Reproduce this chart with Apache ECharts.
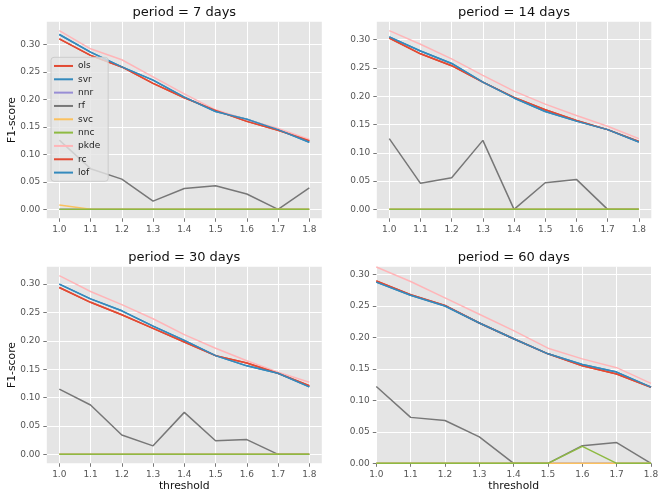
<!DOCTYPE html>
<html><head><meta charset="utf-8">
<script src="https://cdn.jsdelivr.net/npm/echarts@6/dist/echarts.min.js"></script>
<style>html,body{margin:0;padding:0;background:#fff}#c{width:665px;height:499px}</style>
</head><body><div id="c"></div>
<script>
// ---- data ----
const thresholds = [1.0, 1.1, 1.2, 1.3, 1.4, 1.5, 1.6, 1.7, 1.8];
const periodTitles = ['period = 7 days', 'period = 14 days', 'period = 30 days', 'period = 60 days'];
const xTickValues = [1.0, 1.1, 1.2, 1.3, 1.4, 1.5, 1.6, 1.7, 1.8];
const yTickValues = [0, 0.05, 0.10, 0.15, 0.20, 0.25, 0.30];
const methodNames = ['ols', 'svr', 'nnr', 'rf', 'svc', 'nnc', 'pkde', 'rc', 'lof'];
// each array: [7 days, 14 days, 30 days, 60 days]
const ols = [
  [0.310, 0.280, 0.259, 0.229, 0.203, 0.180, 0.160, 0.144, 0.125],
  [0.303, 0.275, 0.254, 0.225, 0.198, 0.176, 0.157, 0.141, 0.120],
  [0.294, 0.268, 0.246, 0.222, 0.198, 0.174, 0.161, 0.143, 0.121],
  [0.290, 0.268, 0.251, 0.223, 0.198, 0.174, 0.155, 0.142, 0.121]
];
const svr = [
  [0.318, 0.286, 0.259, 0.235, 0.204, 0.178, 0.164, 0.145, 0.122],
  [0.305, 0.280, 0.258, 0.225, 0.197, 0.173, 0.156, 0.141, 0.119],
  [0.300, 0.274, 0.253, 0.226, 0.201, 0.174, 0.156, 0.143, 0.119],
  [0.288, 0.267, 0.250, 0.223, 0.198, 0.174, 0.157, 0.145, 0.121]
];
const nnr = [
  [0, 0, 0, 0, 0, 0, 0, 0, 0],
  [0, 0, 0, 0, 0, 0, 0, 0, 0],
  [0, 0, 0, 0, 0, 0, 0, 0, 0],
  [0, 0, 0, 0, 0, 0, 0, 0, 0]
];
const rf = [
  [0.126, 0.074, 0.055, 0.015, 0.038, 0.043, 0.028, 0, 0.039],
  [0.125, 0.046, 0.056, 0.122, 0, 0.047, 0.053, 0, 0],
  [0.115, 0.087, 0.034, 0.015, 0.074, 0.024, 0.026, 0, 0],
  [0.122, 0.073, 0.068, 0.042, 0, 0, 0.028, 0.033, 0]
];
const svc = [
  [0.008, 0, 0, 0, 0, 0, 0, 0, 0],
  [0, 0, 0, 0, 0, 0, 0, 0, 0],
  [0, 0, 0, 0, 0, 0, 0, 0, 0],
  [0, 0, 0, 0, 0, 0, 0, 0, 0]
];
const nnc = [
  [0, 0, 0, 0, 0, 0, 0, 0, 0],
  [0, 0, 0, 0, 0, 0, 0, 0, 0],
  [0, 0, 0, 0, 0, 0, 0, 0, 0],
  [0, 0, 0, 0, 0, 0, 0.027, 0, 0]
];
const pkde = [
  [0.325, 0.292, 0.272, 0.241, 0.210, 0.181, 0.163, 0.147, 0.127],
  [0.316, 0.292, 0.266, 0.237, 0.209, 0.186, 0.166, 0.147, 0.125],
  [0.315, 0.287, 0.264, 0.239, 0.211, 0.187, 0.165, 0.145, 0.127],
  [0.312, 0.289, 0.263, 0.237, 0.211, 0.183, 0.166, 0.152, 0.127]
];
const rc = [
  [0.310, 0.280, 0.259, 0.229, 0.203, 0.180, 0.160, 0.144, 0.125],
  [0.303, 0.275, 0.254, 0.225, 0.198, 0.176, 0.157, 0.141, 0.120],
  [0.294, 0.268, 0.246, 0.222, 0.198, 0.174, 0.161, 0.143, 0.121],
  [0.290, 0.268, 0.251, 0.223, 0.198, 0.174, 0.155, 0.142, 0.121]
];
const lof = [
  [0.318, 0.286, 0.259, 0.235, 0.204, 0.178, 0.164, 0.145, 0.122],
  [0.305, 0.280, 0.258, 0.225, 0.197, 0.173, 0.156, 0.141, 0.119],
  [0.300, 0.274, 0.253, 0.226, 0.201, 0.174, 0.156, 0.143, 0.119],
  [0.288, 0.267, 0.250, 0.223, 0.198, 0.174, 0.157, 0.145, 0.121]
];
const methodData = [ols, svr, nnr, rf, svc, nnc, pkde, rc, lof];

// ---- style / layout ----
const colors = ['#E24A33', '#348ABD', '#988ED5', '#777777', '#FBC15E', '#8EBA42', '#FFB5B8', '#E24A33', '#348ABD'];
const FONT = '"DejaVu Sans", "Liberation Sans", sans-serif';
const grids = [
  {left: 46.8, top: 21.7, width: 275, height: 196.6},
  {left: 376.8, top: 21.7, width: 274.5, height: 196.6},
  {left: 46.8, top: 266.7, width: 275, height: 196.6},
  {left: 376.3, top: 266.7, width: 274.7, height: 196.6}
];
const xRanges = [[0.96, 1.84], [0.96, 1.84], [0.96, 1.84], [1.0, 1.8]];
const yRanges = [[-0.01625, 0.34125], [-0.0158, 0.3318], [-0.01575, 0.33075], [0, 0.3125]];

const chart = echarts.init(document.getElementById('c'), null, {renderer: 'canvas'});

const gridOpts = grids.map(g => Object.assign({show: true, backgroundColor: '#E5E5E5', borderWidth: 0, containLabel: false}, g));
const xAxes = grids.map((g, i) => ({
  type: 'value', gridIndex: i, min: xRanges[i][0], max: xRanges[i][1],
  axisLine: {show: false, onZero: false},
  axisTick: {show: true, length: 3.5, customValues: xTickValues, lineStyle: {color: '#555555', width: 0.8}},
  axisLabel: {customValues: xTickValues, margin: 6.5, fontSize: 9, fontFamily: FONT, color: '#555555',
    formatter: v => Number(v).toFixed(1)},
  splitLine: {show: true, lineStyle: {color: '#FFFFFF', width: 1}}
}));
const yAxes = grids.map((g, i) => ({
  type: 'value', gridIndex: i, min: yRanges[i][0], max: yRanges[i][1],
  axisLine: {show: false, onZero: false},
  axisTick: {show: true, length: 3.5, customValues: yTickValues, lineStyle: {color: '#555555', width: 0.8}},
  axisLabel: {customValues: yTickValues, margin: 6.5, fontSize: 9, fontFamily: FONT, color: '#555555',
    formatter: v => Number(v).toFixed(2)},
  splitLine: {show: true, lineStyle: {color: '#FFFFFF', width: 1}}
}));

const series = [];
grids.forEach((g, i) => {
  methodNames.forEach((name, m) => {
    series.push({
      type: 'line', name: name, xAxisIndex: i, yAxisIndex: i,
      data: thresholds.map((x, j) => [x, methodData[m][i][j]]),
      symbol: 'none', showSymbol: false, clip: true,
      color: colors[m],
      lineStyle: {color: colors[m], width: 1.5},
      emphasis: {disabled: true}
    });
  });
});

const textEl = (text, x, y, size, rot) => ({
  type: 'text', x: x, y: y, rotation: rot || 0, silent: true,
  style: {text: text, fontSize: size, fontFamily: FONT, fill: '#111', align: 'center', verticalAlign: 'middle'}
});
const graphics = [
  textEl(periodTitles[0], 184.3, 12.3, 13),
  textEl(periodTitles[1], 514, 12.3, 13),
  textEl(periodTitles[2], 184.3, 257.3, 13),
  textEl(periodTitles[3], 513.7, 257.3, 13),
  textEl('F1-score', 11.7, 120, 10.8, Math.PI / 2),
  textEl('F1-score', 11.7, 365, 10.8, Math.PI / 2),
  textEl('threshold', 184.3, 485.7, 10.8),
  textEl('threshold', 513.7, 485.7, 10.8)
];

chart.setOption({
  animation: false,
  grid: gridOpts,
  xAxis: xAxes,
  yAxis: yAxes,
  series: series,
  graphic: graphics,
  legend: {
    data: methodNames, orient: 'vertical', left: 51, top: 57.3,
    icon: 'rect', itemWidth: 19, itemHeight: 2, itemGap: 0, itemTextGap: 5,
    padding: [2, 8, 2, 3], selectedMode: false,
    textStyle: {fontSize: 9, fontFamily: FONT, color: '#222', lineHeight: 13.33},
    backgroundColor: 'rgba(229,229,229,0.8)', borderColor: '#CCCCCC', borderWidth: 1, borderRadius: 3
  }
});
</script>
</body></html>
